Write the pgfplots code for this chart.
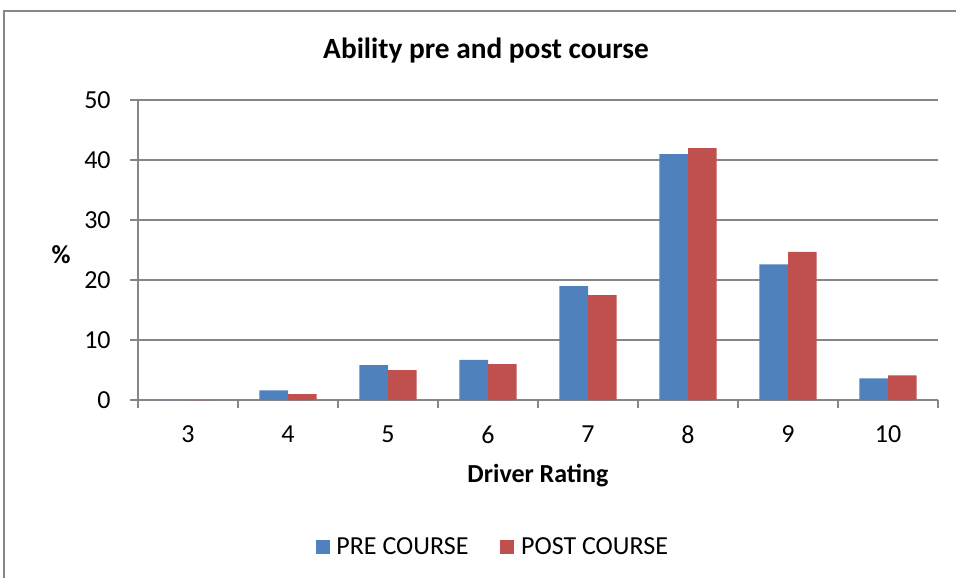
\documentclass[border=0pt]{standalone}
\usepackage{pgfplots}
\pgfplotsset{compat=1.18}
\usepackage{fontspec}
\setmainfont{Carlito}
\definecolor{preblue}{RGB}{79,129,189}
\definecolor{postred}{RGB}{192,80,77}
\definecolor{gridgray}{RGB}{134,134,134}
\newcommand{\bigfont}{\fontsize{19.5}{23}\selectfont}
\begin{document}
\begin{tikzpicture}
% image pixel coordinates (origin top left) -> picture
\begin{scope}[x=0.75pt,y=-0.75pt,xshift=-103.5pt,yshift=300pt]
  \path[use as bounding box] (0,0) rectangle (956,578);
  \draw[gridgray,line width=1pt] (4,578) -- (4,11) -- (956,11);
  \node[font=\fontsize{22}{26}\selectfont\bfseries] at (486,51) {Ability pre and post course};
  \node[font=\bigfont\bfseries] at (538,476) {Driver Rating};
  \node[font=\bigfont\bfseries] at (61,255) {\%};
\end{scope}
\begin{axis}[
    at={(0,0)}, anchor=south west,
    scale only axis,
    width=600pt, height=225pt,
    ybar=0pt, bar width=21.4pt,
    xmin=2.5, xmax=10.5,
    ymin=0, ymax=50,
    ytick={0,10,...,50},
    xtick={3,...,10},
    xticklabels={3,4,5,6,7,8,9,10},
    xtick style={draw=none},
    extra x ticks={2.5,3.5,...,10.5},
    extra x tick labels={},
    extra x tick style={xtick style={draw=gridgray,line width=1pt}, major tick length=6pt, tick align=outside, grid=none},
    ytick style={draw=gridgray,line width=1pt},
    major tick length=6pt,
    tick align=outside,
    axis x line*=bottom, axis y line*=left,
    axis line style={draw=gridgray,line width=1pt,-},
    ymajorgrids, grid style={gridgray,line width=1pt},
    tick label style={font=\bigfont},
    /pgf/number format/assume math mode=true,
    y tick label style={xshift=-11pt},
    x tick label style={yshift=-10pt},
    legend style={at={(0.444,-0.49)}, anchor=center, draw=none, font=\bigfont,
      legend columns=2,
      /tikz/every odd column/.append style={column sep=3pt},
      /tikz/every even column/.append style={column sep=22pt}},
    legend image code/.code={\fill[#1,draw=none] (0pt,-5.25pt) rectangle (10.5pt,5.25pt);},
]
\addplot[fill=preblue,draw=none] coordinates {(3,0) (4,1.6) (5,5.8) (6,6.7) (7,19.0) (8,41.0) (9,22.6) (10,3.6)};
\addlegendentry{PRE COURSE}
\addplot[fill=postred,draw=none] coordinates {(3,0) (4,1.0) (5,5.0) (6,6.0) (7,17.5) (8,42.0) (9,24.7) (10,4.1)};
\addlegendentry{POST COURSE}
\end{axis}
\end{tikzpicture}
\end{document}
